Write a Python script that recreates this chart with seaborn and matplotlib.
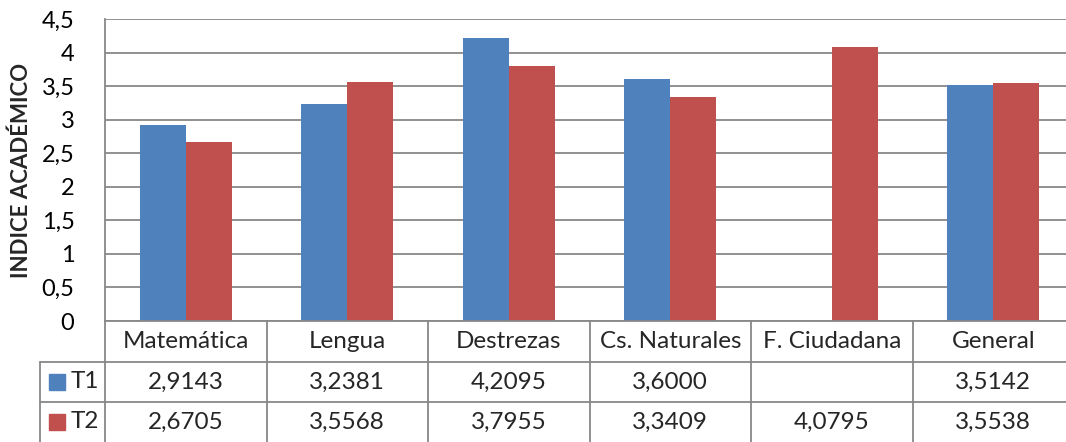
import pandas as pd
import numpy as np
import matplotlib
matplotlib.use("Agg")
import matplotlib.pyplot as plt
import seaborn as sns
from matplotlib.patches import Rectangle
from matplotlib.ticker import FuncFormatter
from matplotlib.transforms import blended_transform_factory

categories = ["Matemática", "Lengua", "Destrezas", "Cs. Naturales", "F. Ciudadana", "General"]
t1_values = [2.9143, 3.2381, 4.2095, 3.6000, np.nan, 3.5142]
t2_values = [2.6705, 3.5568, 3.7955, 3.3409, 4.0795, 3.5538]
series_names = ["T1", "T2"]
colors = ["#4F81BD", "#C0504D"]
y_ticks = [0, 0.5, 1, 1.5, 2, 2.5, 3, 3.5, 4, 4.5]

grid_color = "#888888"
font = "Lato"
table_size = 17.5

df = pd.DataFrame({
    "categoria": categories * 2,
    "serie": ["T1"] * len(categories) + ["T2"] * len(categories),
    "valor": t1_values + t2_values,
})

sns.set_theme(style="white")
plt.rcParams["font.family"] = [font, "DejaVu Sans"]

fig = plt.figure(figsize=(10.66, 4.42), dpi=100)
# plot area runs a little past the right edge of the picture, as in the original
ax = fig.add_axes([105 / 1066, 121 / 442, 969 / 1066, 302 / 442])

sns.barplot(data=df, x="categoria", y="valor", hue="serie", order=categories,
            hue_order=series_names, palette=colors, width=0.57, saturation=1,
            edgecolor="none", legend=False, ax=ax)

ax.set_xlim(-0.5, len(categories) - 0.5)
ax.set_ylim(0, 4.5)
ax.set_yticks(y_ticks)
ax.yaxis.set_major_formatter(FuncFormatter(lambda v, _: f"{v:g}".replace(".", ",")))
ax.tick_params(axis="y", length=0, pad=22, labelsize=17, colors="black")
ax.set_xticks([])
ax.set_xlabel("")
ax.set_ylabel("INDICE ACADÉMICO", fontsize=16, fontweight="bold")
ax.yaxis.set_label_coords(-73 / 969, 0.5)

ax.yaxis.grid(True, color=grid_color, linewidth=1.3)
ax.set_axisbelow(True)
for side in ["top", "right", "bottom"]:
    ax.spines[side].set_visible(False)
ax.spines["left"].set_color(grid_color)
ax.spines["left"].set_linewidth(1.3)

# data table under the plot
tr = blended_transform_factory(ax.transData, ax.transAxes)
row_y = [0, -41 / 302, -81 / 302, -121 / 302]
leg_x = -65 / 969
line_kw = dict(color=grid_color, linewidth=1.3, clip_on=False)

n = len(categories)
for b in np.arange(-0.5, n, 1.0):
    ax.plot([b, b], [0, row_y[-1]], transform=tr, **line_kw)
for yy in row_y[1:3]:
    ax.plot([leg_x, 1.0], [yy, yy], transform=ax.transAxes, **line_kw)
ax.plot([leg_x, leg_x], [row_y[1], row_y[-1]], transform=ax.transAxes, **line_kw)
ax.plot([0, 1], [0, 0], transform=ax.transAxes, **line_kw)

cat_y = (row_y[0] + row_y[1]) / 2
for i, cat in enumerate(categories):
    ax.text(i, cat_y, cat, transform=tr, ha="center", va="center", fontsize=table_size)

for r, (name, vals, col) in enumerate(zip(series_names, [t1_values, t2_values], colors)):
    yc = (row_y[r + 1] + row_y[r + 2]) / 2
    ax.add_patch(Rectangle((-56 / 969, yc - 8 / 302), 16 / 969, 16 / 302,
                           transform=ax.transAxes, color=col, clip_on=False))
    ax.text(-34 / 969, yc, name, transform=ax.transAxes, ha="left", va="center",
            fontsize=table_size)
    for i, v in enumerate(vals):
        if not np.isnan(v):
            ax.text(i, yc, f"{v:.4f}".replace(".", ","), transform=tr,
                    ha="center", va="center", fontsize=table_size)

fig.savefig("out.png", dpi=100)
